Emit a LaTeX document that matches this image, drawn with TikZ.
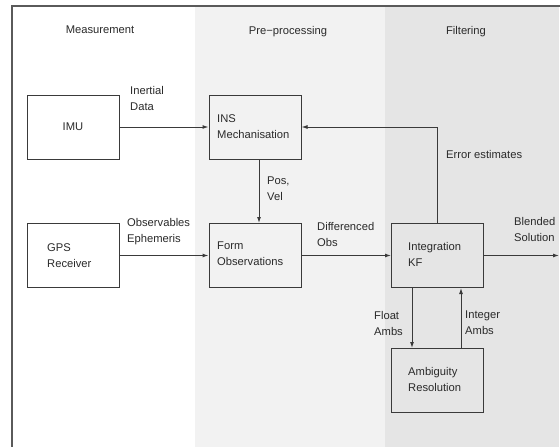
\documentclass[tikz,border=0pt]{standalone}
\usepackage{fontspec}
\setmainfont{Liberation Sans}
\usetikzlibrary{arrows.meta}
\definecolor{midgrey}{HTML}{F2F2F2}
\definecolor{rightgrey}{HTML}{E5E5E5}
\definecolor{framegrey}{HTML}{5A5A5A}
\definecolor{linegrey}{HTML}{3A3A3A}
\definecolor{txtgrey}{HTML}{2A2A2A}
\tikzset{
  blk/.style={draw=linegrey, line width=1pt, minimum width=92pt, minimum height=64pt, inner sep=0pt},
  lbl/.style={font=\fontsize{11.2}{16}\selectfont, text=txtgrey, align=left, anchor=north west, inner sep=0pt},
  head/.style={font=\fontsize{11.2}{16}\selectfont, text=txtgrey, anchor=north, inner sep=0pt},
  conn/.style={draw=linegrey, line width=1pt, -{Latex[length=6pt,width=4pt]}}
}
\begin{document}
\begin{tikzpicture}[x=1pt,y=-1pt]
\useasboundingbox (0,0) rectangle (560,447);
\fill[white] (0,0) rectangle (560,447);
\fill[midgrey] (195,6) rectangle (385,447);
\fill[rightgrey] (385,6) rectangle (559,447);
\draw[framegrey, line width=1.2pt] (12,447) -- (12,6) -- (560,6);

\node[head] (hm) at (100,26) {Measurement};
\node[head] (hp) at (288,26) {Pre−processing};
\node[head] (hf) at (466,26) {Filtering};

\node[blk] (imu) at (73,127) {};
\node[blk] (ins) at (255,127) {};
\node[blk] (gps) at (73,255.5) {};
\node[blk] (form) at (255,255.5) {};
\node[blk] (kf) at (437.5,255.5) {};
\node[blk] (amb) at (437.5,380.5) {};

\node[font=\fontsize{11.2}{16}\selectfont, text=txtgrey, inner sep=0pt] (timu) at (imu.center) {IMU};
\node[lbl] (tins) at (217,114) {INS\\Mechanisation};
\node[lbl] (tgps) at (47,243) {GPS\\Receiver};
\node[lbl] (tform) at (217,242) {Form\\Observations};
\node[lbl] (tkf) at (408,242) {Integration\\KF};
\node[lbl] (tamb) at (408,367) {Ambiguity\\Resolution};

\node[lbl] (linert) at (130,86) {Inertial\\Data};
\node[lbl] (lpos) at (267,177) {Pos,\\Vel};
\node[lbl] (lerr) at (446,150) {Error estimates};
\node[lbl] (lobs) at (127,218) {Observables\\Ephemeris};
\node[lbl] (ldiff) at (317,222) {Differenced\\Obs};
\node[lbl] (lblend) at (514,217) {Blended\\Solution};
\node[lbl] (lfloat) at (374,311) {Float\\Ambs};
\node[lbl] (lint) at (465,311) {Integer\\Ambs};

\coordinate (out) at (559,255.5);

\draw[conn] (imu.east) -- (ins.west);
\draw[conn] ([xshift=4pt]ins.south) -- ([xshift=4pt]form.north);
\draw[conn] (gps.east) -- (form.west);
\draw[conn] (form.east) -- (kf.west);
\draw[conn] (kf.east) -- (out);
\draw[conn] (kf.north) -- (kf.north |- ins.east) -- (ins.east);
\draw[conn] ([xshift=-25.5pt]kf.south) -- ([xshift=-25.5pt]amb.north);
\draw[conn] ([xshift=23.5pt]amb.north) -- ([xshift=23.5pt]kf.south);
\end{tikzpicture}
\end{document}
